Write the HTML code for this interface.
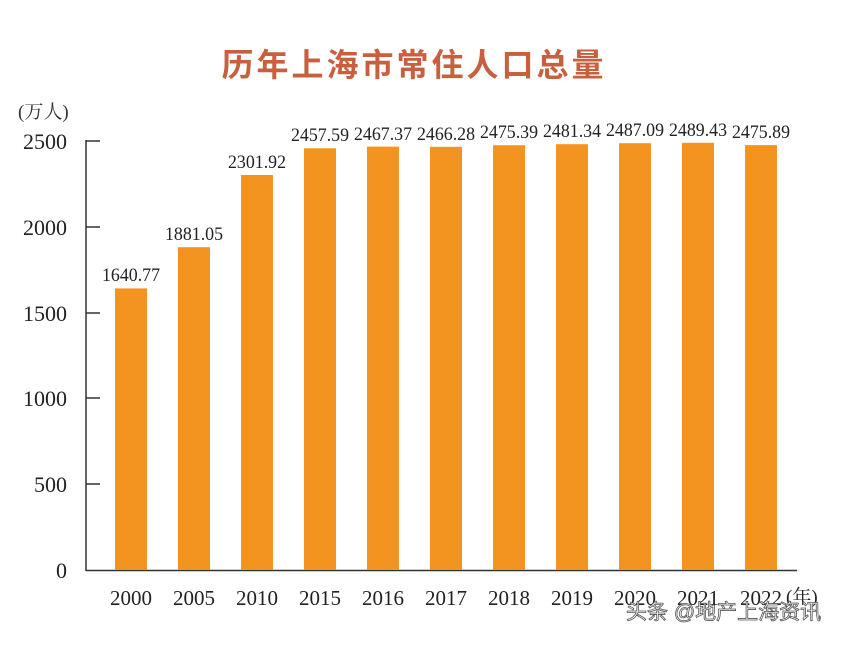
<!DOCTYPE html>
<html><head><meta charset="utf-8"><style>
body{margin:0;background:#fff;width:844px;height:641px;overflow:hidden}
</style></head><body>
<svg width="844" height="641" xmlns="http://www.w3.org/2000/svg" font-family="'Liberation Serif','Noto Serif CJK SC',serif">
<text x="414" y="76" text-anchor="middle" font-family="'Liberation Sans','Noto Sans CJK SC',sans-serif" font-size="32" font-weight="bold" fill="#c8603f" letter-spacing="3">历年上海市常住人口总量</text>
<text x="18" y="118" font-size="19" fill="#333">(万人)</text>
<line x1="86" y1="140" x2="86" y2="571" stroke="#333" stroke-width="1.5"/>
<line x1="86" y1="570.5" x2="797" y2="570.5" stroke="#333" stroke-width="1.5"/>
<g stroke="#333" stroke-width="1.5">
<line x1="86" y1="141" x2="100" y2="141"/><line x1="86" y1="227" x2="100" y2="227"/>
<line x1="86" y1="313" x2="100" y2="313"/><line x1="86" y1="398" x2="100" y2="398"/>
<line x1="86" y1="484" x2="100" y2="484"/>
</g>
<g font-size="22" fill="#222" text-anchor="end">
<text x="67" y="149">2500</text><text x="67" y="235">2000</text><text x="67" y="321">1500</text>
<text x="67" y="406">1000</text><text x="67" y="492">500</text><text x="67" y="578">0</text>
</g>
<g fill="#f39420">
<rect x="115" y="288.4" width="32" height="281.6"/>
<rect x="178" y="247.2" width="32" height="322.8"/>
<rect x="241" y="175.0" width="32" height="395.0"/>
<rect x="304" y="148.3" width="32" height="421.7"/>
<rect x="367" y="146.6" width="32" height="423.4"/>
<rect x="430" y="146.8" width="32" height="423.2"/>
<rect x="493" y="145.2" width="32" height="424.8"/>
<rect x="556" y="144.2" width="32" height="425.8"/>
<rect x="619" y="143.2" width="32" height="426.8"/>
<rect x="682" y="142.8" width="32" height="427.2"/>
<rect x="745" y="145.1" width="32" height="424.9"/>
</g>
<g font-size="19" text-anchor="middle" fill="#222" lengthAdjust="spacingAndGlyphs">
<text x="131" y="281" textLength="58" lengthAdjust="spacingAndGlyphs">1640.77</text>
<text x="194" y="240" textLength="58" lengthAdjust="spacingAndGlyphs">1881.05</text>
<text x="257" y="168" textLength="58" lengthAdjust="spacingAndGlyphs">2301.92</text>
<text x="320" y="141" textLength="58" lengthAdjust="spacingAndGlyphs">2457.59</text>
<text x="383" y="140" textLength="58" lengthAdjust="spacingAndGlyphs">2467.37</text>
<text x="446" y="140" textLength="58" lengthAdjust="spacingAndGlyphs">2466.28</text>
<text x="509" y="138" textLength="58" lengthAdjust="spacingAndGlyphs">2475.39</text>
<text x="572" y="137" textLength="58" lengthAdjust="spacingAndGlyphs">2481.34</text>
<text x="635" y="136" textLength="58" lengthAdjust="spacingAndGlyphs">2487.09</text>
<text x="698" y="136" textLength="58" lengthAdjust="spacingAndGlyphs">2489.43</text>
<text x="761" y="138" textLength="58" lengthAdjust="spacingAndGlyphs">2475.89</text>
</g>
<g font-size="21" text-anchor="middle" fill="#222">
<text x="131" y="605">2000</text><text x="194" y="605">2005</text><text x="257" y="605">2010</text>
<text x="320" y="605">2015</text><text x="383" y="605">2016</text><text x="446" y="605">2017</text>
<text x="509" y="605">2018</text><text x="572" y="605">2019</text><text x="635" y="605">2020</text>
<text x="698" y="605">2021</text><text x="761" y="605">2022</text>
</g>
<text x="786" y="603" font-size="19" fill="#222">(年)</text>
<text x="626" y="619" font-family="'Liberation Sans','Noto Sans CJK SC',sans-serif" font-size="21" fill="#fff" stroke="#555" stroke-width="0.8">头条 @地产上海资讯</text>
</svg>
</body></html>
